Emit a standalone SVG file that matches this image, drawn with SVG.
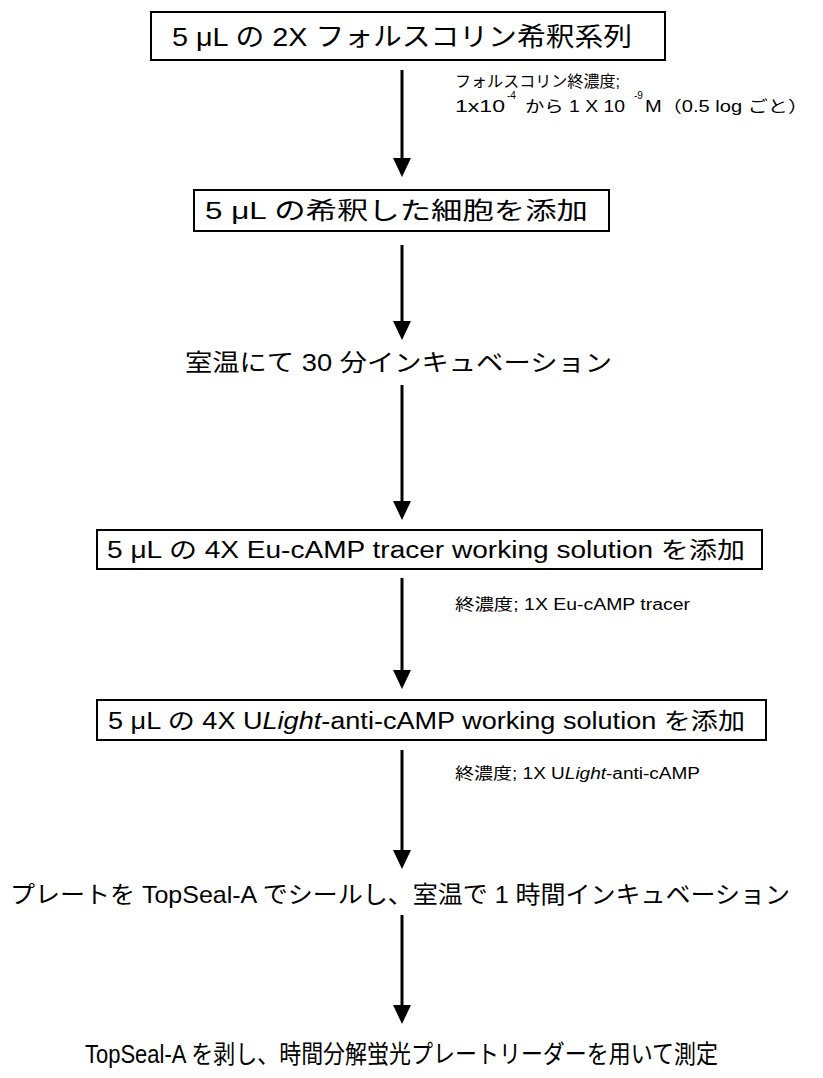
<svg xmlns="http://www.w3.org/2000/svg" width="823" height="1078" viewBox="0 0 823 1078">
<style>
text{font-family:"Liberation Sans","Noto Sans CJK JP",sans-serif;fill:#000}
.box{fill:#fff;stroke:#000;stroke-width:2}
.bt{font-size:24px}
.lb{font-size:16px}
.sup{font-size:10px}
.ft{font-size:24px}
.arr{stroke:#000;stroke-width:3;fill:none}
</style>
<g id="connectors">
<line class="arr" x1="402" y1="70" x2="402" y2="162"/><path d="M393,158 L411,158 L402,177 Z"/>
<line class="arr" x1="402" y1="245" x2="402" y2="325"/><path d="M393,321 L411,321 L402,340 Z"/>
<line class="arr" x1="402" y1="385" x2="402" y2="505"/><path d="M393,501 L411,501 L402,520 Z"/>
<line class="arr" x1="402" y1="578" x2="402" y2="674"/><path d="M393,670 L411,670 L402,689 Z"/>
<line class="arr" x1="402" y1="750" x2="402" y2="854"/><path d="M393,850 L411,850 L402,869 Z"/>
<line class="arr" x1="402" y1="915" x2="402" y2="1009"/><path d="M393,1005 L411,1005 L402,1024 Z"/>
</g>
<g id="n1">
<rect class="box" x="151" y="12" width="514" height="48"/>
<text class="bt" x="172" y="46" style="font-size:26px" textLength="460" lengthAdjust="spacingAndGlyphs">5 μL の 2X  フォルスコリン希釈系列</text>
</g>
<g id="l1">
<text class="lb" x="455" y="87" textLength="165" lengthAdjust="spacingAndGlyphs">フォルスコリン終濃度;</text>
<text class="lb" x="455" y="112" textLength="50" lengthAdjust="spacingAndGlyphs">1x10</text>
<text class="sup" x="507" y="99">-4</text>
<text class="lb" x="525" y="112" textLength="100" lengthAdjust="spacingAndGlyphs">から 1 X 10</text>
<text class="sup" x="634" y="99">-9</text>
<text class="lb" x="645" y="112" textLength="163" lengthAdjust="spacingAndGlyphs">M（0.5 log ごと）</text>
</g>
<g id="n2">
<rect class="box" x="194" y="190" width="415" height="41"/>
<text class="bt" x="205" y="219" textLength="383" lengthAdjust="spacingAndGlyphs">5 μL の希釈した細胞を添加</text>
</g>
<g id="n3">
<text class="ft" x="185" y="371" textLength="427" lengthAdjust="spacingAndGlyphs">室温にて 30 分インキュベーション</text>
</g>
<g id="n4">
<rect class="box" x="97" y="530" width="665" height="39"/>
<text class="bt" x="107" y="558" style="font-size:23px" textLength="638" lengthAdjust="spacingAndGlyphs">5 μL の 4X Eu-cAMP tracer working solution を添加</text>
</g>
<g id="l4">
<text class="lb" x="455" y="610" textLength="235" lengthAdjust="spacingAndGlyphs">終濃度; 1X Eu-cAMP tracer</text>
</g>
<g id="n5">
<rect class="box" x="97" y="700" width="669" height="40"/>
<text class="bt" x="108" y="729" style="font-size:23px" textLength="637" lengthAdjust="spacingAndGlyphs">5 μL の 4X U<tspan font-style="italic">Light</tspan>-anti-cAMP working solution を添加</text>
</g>
<g id="l5">
<text class="lb" x="455" y="779" textLength="245" lengthAdjust="spacingAndGlyphs">終濃度; 1X U<tspan font-style="italic">Light</tspan>-anti-cAMP</text>
</g>
<g id="n6">
<text class="ft" x="10" y="903" textLength="780" lengthAdjust="spacingAndGlyphs">プレートを TopSeal-A でシールし、室温で 1 時間インキュベーション</text>
</g>
<g id="n7">
<text class="ft" x="85" y="1063" style="font-size:25px" textLength="633" lengthAdjust="spacingAndGlyphs">TopSeal-A を剥し、時間分解蛍光プレートリーダーを用いて測定</text>
</g>
</svg>
